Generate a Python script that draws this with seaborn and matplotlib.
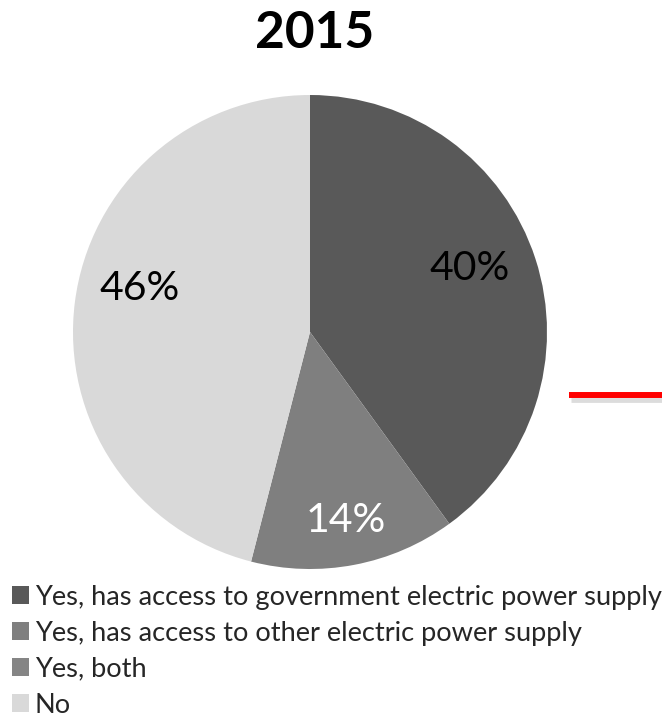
import matplotlib
matplotlib.use("Agg")
import matplotlib.pyplot as plt
from matplotlib.lines import Line2D
from matplotlib.patches import Patch
import numpy as np
import seaborn as sns

sns.set_style("white")
plt.rcParams["font.family"] = ["Lato", "DejaVu Sans"]

# Access to electricity, 2015 (share of respondents, %)
categories = [
    "Yes, has access to government electric power supply",
    "Yes, has access to other electric power supply",
    "Yes, both",
    "No",
]
shares = [40, 14, 0, 46]
colors = ["#595959", "#7f7f7f", "#858585", "#d9d9d9"]
label_colors = ["black", "white", "white", "black"]
# label placement inside each slice: radius fraction and angular nudge (deg)
label_radius = [0.727, 0.81, 0.8, 0.74]
label_nudge = [3.8, 0.0, 0.0, -7.0]
title = "2015"

W, H = 662, 717
fig = plt.figure(figsize=(W / 100, H / 100), dpi=100)

cx, cy, r = 310, 332, 237
ax = fig.add_axes([(cx - r) / W, (H - cy - r) / H, 2 * r / W, 2 * r / H])
wedges, _ = ax.pie(
    shares,
    colors=colors,
    startangle=90,
    counterclock=False,
    radius=1.0,
    wedgeprops=dict(linewidth=0),
)
ax.set_xlim(-1, 1)
ax.set_ylim(-1, 1)
ax.set_aspect("equal")
ax.axis("off")

# Percentage labels inside each non-empty slice
for w, val, lc, lr, nd in zip(wedges, shares, label_colors, label_radius, label_nudge):
    if val <= 0:
        continue
    mid = np.deg2rad((w.theta1 + w.theta2) / 2 + nd)
    ax.text(lr * np.cos(mid), lr * np.sin(mid), f"{val}%",
            ha="center", va="center", fontsize=29.5, color=lc)

fig.text(315 / W, 1 - 34 / H, title, ha="center", va="center",
         fontsize=37, fontweight="bold", color="black")

handles = [Patch(facecolor=c, edgecolor="none") for c in colors]
fig.legend(handles, categories, loc="upper left",
           bbox_to_anchor=(12 / W, 1 - 585 / H), frameon=False,
           fontsize=19.6, handlelength=0.64, handleheight=0.64,
           handletextpad=0.2, labelspacing=0.40, borderaxespad=0,
           borderpad=0)

# Red connector stroke at the right edge, with its soft shadow
fig.add_artist(Line2D([571 / W, 1.0], [1 - 400 / H, 1 - 400 / H],
                      transform=fig.transFigure, color="#d4d4d4",
                      linewidth=3.5, alpha=0.8, solid_capstyle="butt"))
fig.add_artist(Line2D([569 / W, 1.0], [1 - 395 / H, 1 - 395 / H],
                      transform=fig.transFigure, color="#ff0000",
                      linewidth=4.3, solid_capstyle="butt"))

fig.savefig("out.png", dpi=100)
